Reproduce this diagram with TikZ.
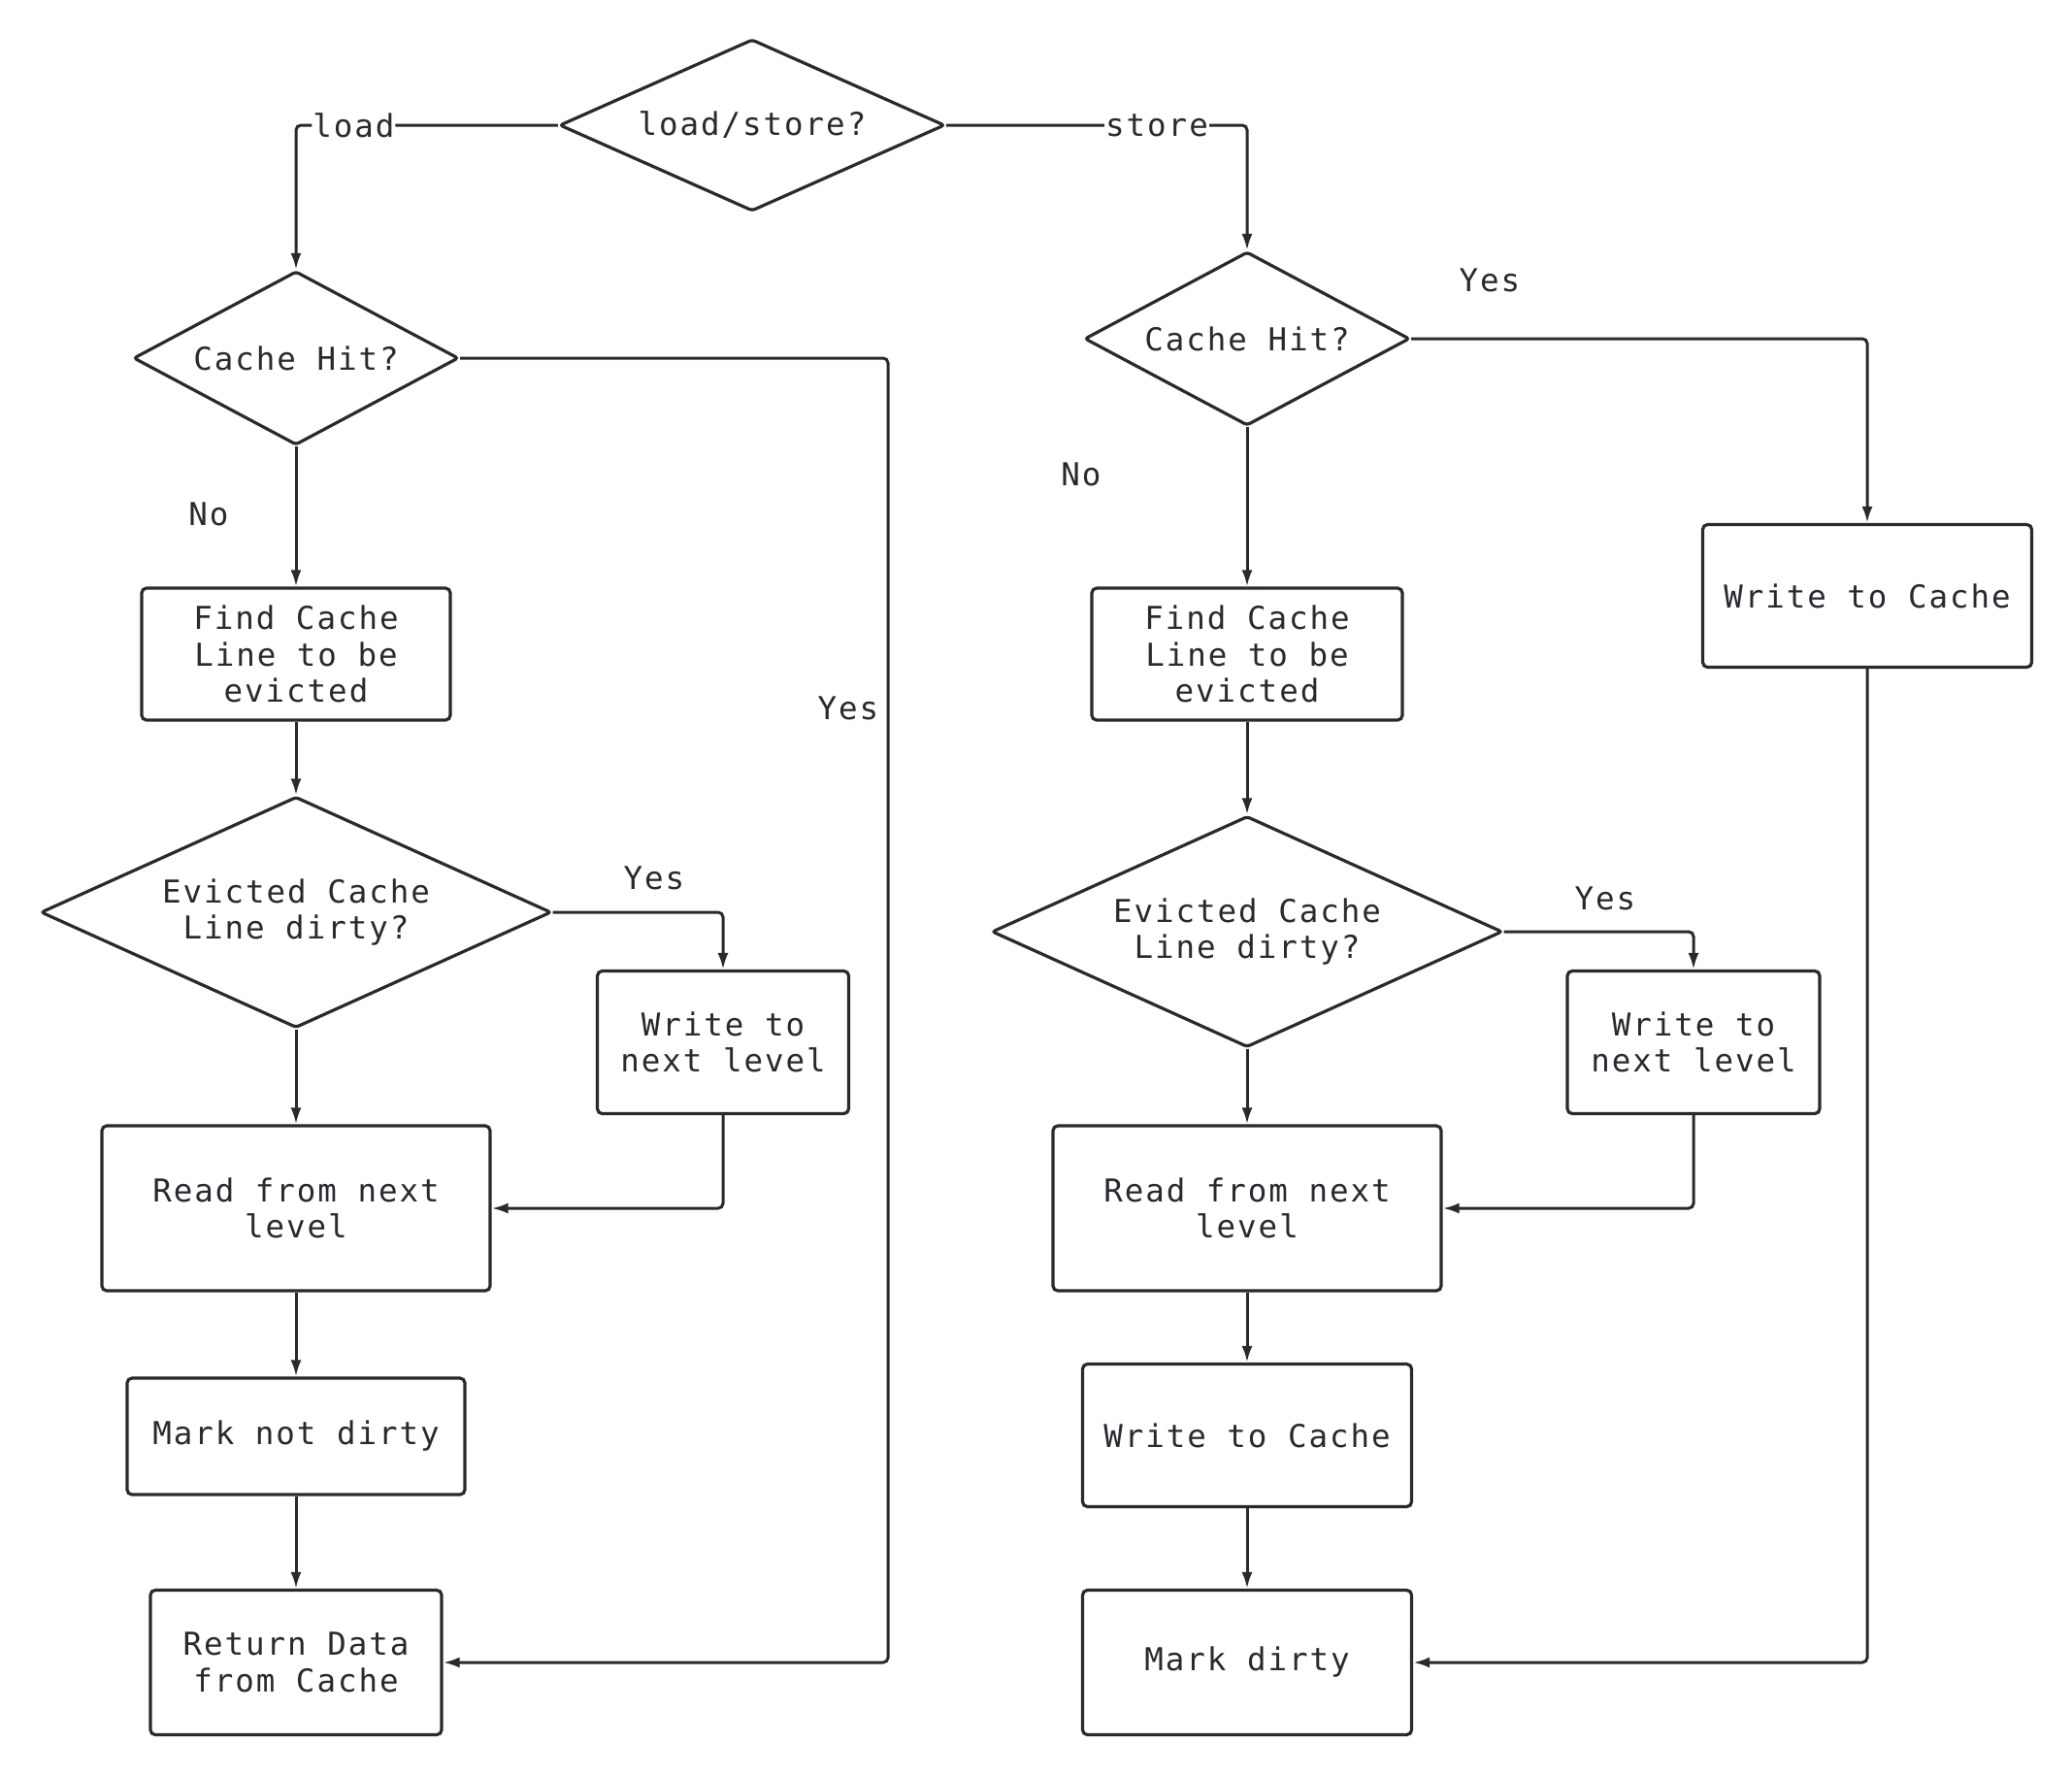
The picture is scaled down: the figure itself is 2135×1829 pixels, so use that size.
\documentclass[tikz,border=0pt]{standalone}
\usepackage{fontspec}
\usetikzlibrary{shapes.geometric,arrows.meta}
\newfontfamily\dgfont[LetterSpace=6]{DejaVu Sans Mono}
\definecolor{ink}{RGB}{40,42,48}
\begin{document}
\begin{tikzpicture}[x=1pt,y=-1pt,
  every node/.style={font=\dgfont\fontsize{32.5}{37.4}\selectfont, text=ink},
  box/.style={draw=ink, line width=3.2pt, rounded corners=5pt, align=center, inner sep=0pt, fill=white},
  dia/.style={draw=ink, line width=3.2pt, diamond, align=center, inner sep=0pt, rounded corners=3pt, fill=white},
  arr/.style={draw=ink, line width=3pt, rounded corners=5pt, -{Latex[length=17pt,width=11pt]}},
  lbl/.style={fill=white, inner sep=1pt}]
\fill[white] (0,0) rectangle (2135,1829);
\useasboundingbox (0,0) rectangle (2135,1829);

% nodes
\node[dia, minimum width=397pt, minimum height=177pt, aspect=2.24] (top) at (775,129) {load/store?};
\node[dia, minimum width=335pt, minimum height=179pt, aspect=1.87] (lhit) at (305,369) {Cache Hit?};
\node[dia, minimum width=335pt, minimum height=179pt, aspect=1.87] (rhit) at (1285,349) {Cache Hit?};
\node[box, minimum width=318pt, minimum height=136pt] (lfind) at (305,674) {Find Cache\\Line to be\\evicted};
\node[box, minimum width=320pt, minimum height=136pt] (rfind) at (1285,674) {Find Cache\\Line to be\\evicted};
\node[dia, minimum width=526pt, minimum height=238pt, aspect=2.21] (ldirty) at (305,940) {Evicted Cache\\Line dirty?};
\node[dia, minimum width=526pt, minimum height=238pt, aspect=2.21] (rdirty) at (1285,960) {Evicted Cache\\Line dirty?};
\node[box, minimum width=259pt, minimum height=147pt] (lwnl) at (745,1074) {Write to\\next level};
\node[box, minimum width=260pt, minimum height=147pt] (rwnl) at (1745,1074) {Write to\\next level};
\node[box, minimum width=400pt, minimum height=170pt] (lread) at (305,1245) {Read from next\\level};
\node[box, minimum width=400pt, minimum height=170pt] (rread) at (1285,1245) {Read from next\\level};
\node[box, minimum width=348pt, minimum height=120pt] (lmark) at (305,1480) {Mark not dirty};
\node[box, minimum width=339pt, minimum height=147pt] (rwc) at (1285,1479) {Write to Cache};
\node[box, minimum width=300pt, minimum height=149pt] (lret) at (305,1713) {Return Data\\from Cache};
\node[box, minimum width=339pt, minimum height=149pt] (mdirty) at (1285,1713) {Mark dirty};
\node[box, minimum width=339pt, minimum height=147pt] (wcache) at (1924,614) {Write to Cache};

\coordinate (lbus) at (915,0);

% connectors
\draw[arr] (top.west) -- node[lbl, pos=0.78]{load} (top.west -| lhit.north) -- (lhit.north);
\draw[arr] (top.east) -- node[lbl, pos=0.70]{store} (top.east -| rhit.north) -- (rhit.north);

\draw[arr] (lhit.south) -- (lfind.north);
\draw[arr] (lfind.south) -- (ldirty.north);
\draw[arr] (ldirty.south) -- (lread.north);
\draw[arr] (lread.south) -- (lmark.north);
\draw[arr] (lmark.south) -- (lret.north);
\draw[arr] (lhit.east) -- (lhit.east -| lbus) -- (lbus |- lret.east) -- (lret.east);
\draw[arr] (ldirty.east) -- (ldirty.east -| lwnl.north) -- (lwnl.north);
\draw[arr] (lwnl.south) -- (lwnl.south |- lread.east) -- (lread.east);

\draw[arr] (rhit.south) -- (rfind.north);
\draw[arr] (rfind.south) -- (rdirty.north);
\draw[arr] (rdirty.south) -- (rread.north);
\draw[arr] (rread.south) -- (rwc.north);
\draw[arr] (rwc.south) -- (mdirty.north);
\draw[arr] (rhit.east) -- (rhit.east -| wcache.north) -- (wcache.north);
\draw[arr] (wcache.south) -- (wcache.south |- mdirty.east) -- (mdirty.east);
\draw[arr] (rdirty.east) -- (rdirty.east -| rwnl.north) -- (rwnl.north);
\draw[arr] (rwnl.south) -- (rwnl.south |- rread.east) -- (rread.east);

% labels
\node (lno) at (215,530) {No};
\node (rno) at (1114,489) {No};
\node (lyes) at (874,730) {Yes};
\node (ryes) at (1535,289) {Yes};
\node (ldyes) at (674,905) {Yes};
\node (rdyes) at (1654,926) {Yes};
\end{tikzpicture}
\end{document}
